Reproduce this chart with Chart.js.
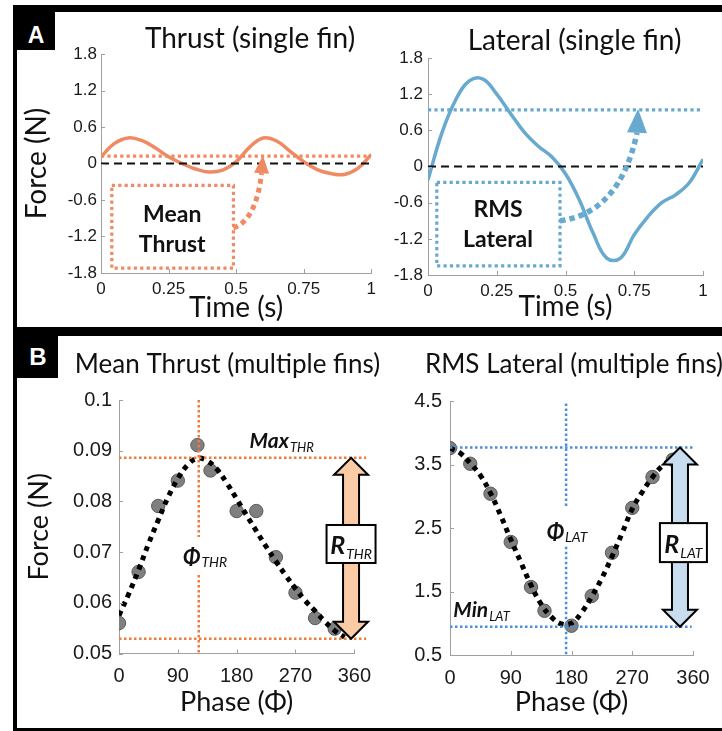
<!DOCTYPE html>
<html>
<head>
<meta charset="utf-8">
<title>Fin forces</title>
<script src="https://cdn.jsdelivr.net/npm/chart.js@4.4.1/dist/chart.umd.min.js"></script>
<style>
  html, body { margin: 0; padding: 0; width: 722px; height: 731px; overflow: hidden; background: #fff; }
  .frame { position: absolute; box-sizing: border-box; border: 0 solid #000; }
  .tag { position: absolute; background: #000; }
  .tagtxt { position: absolute; width: 40px; text-align: center; color: #fff; font: bold 24px "Liberation Sans", Arial, sans-serif; line-height: 24px; }
  canvas { position: absolute; }
</style>
</head>
<body>
<div class="frame" style="left:13px; top:5px; width:720px; height:326px; border-width:7px 0 4px 4px;"></div>
<div class="frame" style="left:13px; top:331px; width:720px; height:400px; border-width:5px 0 3px 4px;"></div>
<div class="tag" style="left:13px; top:5px; width:42px; height:45px;"></div>
<div class="tag" style="left:13px; top:327px; width:45px; height:51px;"></div>
<div class="tagtxt" style="left:16px; top:23px; font-size:23px;">A</div>
<div class="tagtxt" style="left:18px; top:345px;">B</div>

<canvas id="thrustTime" width="365" height="320" style="left:17px; top:12px;"></canvas>
<canvas id="lateralTime" width="338" height="320" style="left:384px; top:12px;"></canvas>
<canvas id="thrustPhase" width="365" height="391" style="left:17px; top:340px;"></canvas>
<canvas id="lateralPhase" width="338" height="391" style="left:384px; top:340px;"></canvas>

<script>
// ---- panel A: single fin over one cycle ----
const timeTicks = [0, 0.25, 0.5, 0.75, 1];
const timeLabels = ['0', '0.25', '0.5', '0.75', '1'];
const forceTicks = [-1.8, -1.2, -0.6, 0, 0.6, 1.2, 1.8];
const forceLabels = ['-1.8', '-1.2', '-0.6', '0', '0.6', '1.2', '1.8'];

const time = [0, 0.05, 0.1, 0.15, 0.2, 0.25, 0.3, 0.35, 0.4, 0.45, 0.5,
              0.55, 0.6, 0.65, 0.7, 0.75, 0.8, 0.85, 0.9, 0.95, 1];
const thrustSingle = [0.11, 0.33, 0.42, 0.38, 0.26, 0.11, 0.0, -0.09, -0.14, -0.11, 0.03,
                      0.27, 0.42, 0.37, 0.2, 0.03, -0.1, -0.165, -0.18, -0.08, 0.15];
const lateralSingle = [-0.22, 0.55, 1.1, 1.42, 1.45, 1.2, 0.88, 0.57, 0.34, 0.16, -0.12,
                       -0.55, -1.1, -1.52, -1.52, -1.13, -0.83, -0.6, -0.47, -0.27, 0.12];
const meanThrust = 0.12;
const rmsLateral = 0.94;

// ---- panel B: multiple fins vs phase ----
const phaseTicks = [0, 90, 180, 270, 360];
const phaseLabels = ['0', '90', '180', '270', '360'];
const thrTicks = [0.05, 0.06, 0.07, 0.08, 0.09, 0.1];
const thrLabels = ['0.05', '0.06', '0.07', '0.08', '0.09', '0.1'];
const latTicks = [0.5, 1.5, 2.5, 3.5, 4.5];
const latLabels = ['0.5', '1.5', '2.5', '3.5', '4.5'];

const finPhase = [0, 30, 60, 90, 120, 140, 180, 210, 240, 270, 300, 330];
const finThrust = [0.0560, 0.0661, 0.0791, 0.0841, 0.0911, 0.0861, 0.0781, 0.0781, 0.0690, 0.0620, 0.0570, 0.0549];
const finLateral = [3.758, 3.512, 3.04, 2.28, 1.57, 1.196, 0.961, 1.43, 2.11, 2.817, 3.303, 3.575];

const fitPhase = [0, 15, 30, 45, 60, 75, 90, 105, 120, 135, 150, 165,
                  180, 195, 210, 225, 240, 255, 270, 285, 300, 315, 330, 345];
const fitThrust = [0.0575, 0.0618, 0.0665, 0.0716, 0.0763, 0.0808, 0.0845, 0.0872, 0.0885, 0.0880, 0.0863, 0.0836,
                   0.0805, 0.0773, 0.0742, 0.0711, 0.0682, 0.0654, 0.0628, 0.0604, 0.0584, 0.0563, 0.0545, 0.0532];
const fitLateral = [3.76, 3.68, 3.52, 3.33, 3.05, 2.70, 2.32, 1.96, 1.60, 1.30, 1.10, 0.99,
                    1.00, 1.17, 1.42, 1.71, 2.05, 2.42, 2.80, 3.07, 3.30, 3.48, 3.57, 3.49];

const maxThr = 0.0886, minThr = 0.0529, phiThr = 122;
const maxLat = 3.768, minLat = 0.945, phiLat = 172;

const SANS = 'Lato, "Noto Sans", sans-serif';
const AXIS = '#a0a0a0';
const ORANGE = '#ef8a62', BLUE = '#67a9cf';
const ORANGE2 = '#f07b3a', BLUE2 = '#4b8fdc';

const pts = (xs, ys) => xs.map((x, i) => ({ x, y: ys[i] }));
const seg = (x0, y0, x1, y1) => [{ x: x0, y: y0 }, { x: x1, y: y1 }];

function lineDs(data, color, width, dash, extra) {
  return Object.assign({ data, borderColor: color, borderWidth: width, borderDash: dash || [],
    pointRadius: 0, fill: false, tension: 0 }, extra || {});
}

function axis(ticksArr, labels, o) {
  return {
    type: 'linear', min: ticksArr[0], max: ticksArr[ticksArr.length - 1],
    afterBuildTicks: s => { s.ticks = ticksArr.map(v => ({ value: v })); },
    afterFit: s => { if (s.isHorizontal()) s.height = o.size; else s.width = o.size; },
    grid: { display: false, drawTicks: false },
    border: { display: true, color: AXIS, width: 1 },
    ticks: { autoSkip: false, maxRotation: 0, padding: o.pad, color: '#1a1a1a',
             font: { family: 'Liberation Sans', size: o.fs }, callback: (v, i) => labels[i] },
    title: o.title ? { display: true, text: o.title, color: '#111',
                       font: { family: SANS, size: o.tfs, lineHeight: 1 }, padding: o.tpad }
                   : { display: false }
  };
}

function subText(ctx, x, y, main, sub, size, subSize, subDy, center) {
  ctx.font = 'bold italic ' + size + 'px ' + SANS;
  const w1 = ctx.measureText(main).width;
  ctx.font = 'italic ' + subSize + 'px ' + SANS;
  const w2 = ctx.measureText(sub).width;
  const x0 = center ? x - (w1 + w2 + 1) / 2 : x;
  ctx.textAlign = 'left';
  ctx.font = 'bold italic ' + size + 'px ' + SANS;
  ctx.fillText(main, x0, y);
  ctx.font = 'italic ' + subSize + 'px ' + SANS;
  ctx.fillText(sub, x0 + w1 + 1, y + subDy);
}

// draws the matlab-ish inner ticks, the panel title and the annotations
function decor(cfg) {
  return {
    id: 'decor',
    afterDatasetsDraw(chart) {
      const { ctx, chartArea: a } = chart;
      const xs = chart.scales.x, ys = chart.scales.y;
      const P = (x, y) => [xs.getPixelForValue(x), ys.getPixelForValue(y)];
      ctx.save();

      ctx.strokeStyle = AXIS; ctx.lineWidth = 1; ctx.setLineDash([]);
      ctx.beginPath();
      xs.ticks.forEach(t => {
        const p = Math.round(xs.getPixelForValue(t.value)) + 0.5;
        ctx.moveTo(p, a.bottom); ctx.lineTo(p, a.bottom - 4);
      });
      ys.ticks.forEach(t => {
        const p = Math.round(ys.getPixelForValue(t.value)) + 0.5;
        ctx.moveTo(a.left, p); ctx.lineTo(a.left + 4, p);
      });
      ctx.stroke();

      ctx.fillStyle = '#111'; ctx.textAlign = 'center'; ctx.textBaseline = 'alphabetic';
      ctx.font = cfg.title.size + 'px ' + SANS;
      ctx.fillText(cfg.title.text, cfg.title.x, cfg.title.y);

      (cfg.boxes || []).forEach(b => {
        const [x1, y1] = P(b.x1, b.y1), [x2, y2] = P(b.x2, b.y2);
        ctx.strokeStyle = b.color; ctx.lineWidth = 3.2; ctx.setLineDash([3.2, 3.2]);
        ctx.strokeRect(x1, y1, x2 - x1, y2 - y1);
      });

      (cfg.bent || []).forEach(c => {
        const p0 = P(...c.from), pc = P(...c.ctrl), p1 = P(...c.to), tip = P(...c.tip);
        ctx.strokeStyle = c.color; ctx.lineWidth = c.width; ctx.setLineDash([c.width, 4]);
        ctx.beginPath(); ctx.moveTo(p0[0], p0[1]);
        ctx.quadraticCurveTo(pc[0], pc[1], p1[0], p1[1]); ctx.stroke();
        const ang = Math.atan2(tip[1] - p1[1], tip[0] - p1[0]);
        const nx = -Math.sin(ang), ny = Math.cos(ang);
        ctx.setLineDash([]); ctx.fillStyle = c.color;
        ctx.beginPath(); ctx.moveTo(tip[0], tip[1]);
        ctx.lineTo(p1[0] + nx * c.half, p1[1] + ny * c.half);
        ctx.lineTo(p1[0] - nx * c.half, p1[1] - ny * c.half);
        ctx.closePath(); ctx.fill();
      });

      ctx.fillStyle = '#111';
      (cfg.words || []).forEach(w => {
        const [x, y] = P(w.x, w.y);
        ctx.font = 'bold ' + w.size + 'px ' + SANS; ctx.textAlign = 'center';
        ctx.fillText(w.text, x, y);
      });

      (cfg.marks || []).forEach(m => {
        const [x, y] = P(m.x, m.y);
        ctx.fillStyle = '#111';
        subText(ctx, x, y, m.main, m.sub, m.size, m.subSize, m.subDy, false);
      });

      (cfg.span || []).forEach(s => {
        const [cx, yT] = P(s.x, s.top), yB = ys.getPixelForValue(s.bottom);
        const hw = 17, hh = 17, sw = 8;
        ctx.beginPath();
        ctx.moveTo(cx, yT); ctx.lineTo(cx + hw, yT + hh); ctx.lineTo(cx + sw, yT + hh);
        ctx.lineTo(cx + sw, yB - hh); ctx.lineTo(cx + hw, yB - hh); ctx.lineTo(cx, yB);
        ctx.lineTo(cx - hw, yB - hh); ctx.lineTo(cx - sw, yB - hh); ctx.lineTo(cx - sw, yT + hh);
        ctx.lineTo(cx - hw, yT + hh); ctx.closePath();
        ctx.fillStyle = s.fill; ctx.fill();
        ctx.strokeStyle = '#000'; ctx.lineWidth = 2; ctx.setLineDash([]); ctx.stroke();

        const [bx, by] = P(s.boxX, s.boxY);
        ctx.fillStyle = '#fff';
        ctx.fillRect(bx - s.w / 2, by - s.h / 2, s.w, s.h);
        ctx.strokeRect(bx - s.w / 2, by - s.h / 2, s.w, s.h);
        ctx.fillStyle = '#111';
        subText(ctx, bx, by + 10.5, 'R', s.sub, 25, 14, 5, true);
      });

      ctx.restore();
    }
  };
}

function makeChart(id, datasets, xAxis, yAxis, pad, deco) {
  return new Chart(document.getElementById(id), {
    type: 'line',
    data: { datasets },
    options: {
      responsive: false, animation: false, events: [],
      layout: { padding: pad },
      plugins: { legend: { display: false }, tooltip: { enabled: false } },
      scales: { x: xAxis, y: yAxis }
    },
    plugins: [decor(deco)]
  });
}

// A: thrust of one fin
makeChart('thrustTime', [
    lineDs(seg(0, 0, 1, 0), '#111', 2, [8, 5]),
    lineDs(seg(0, meanThrust, 1, meanThrust), ORANGE, 3.2, [3.2, 3.2]),
    lineDs(pts(time, thrustSingle), ORANGE, 3.5, [], { tension: 0.4 })
  ],
  axis(timeTicks, timeLabels, { size: 59, pad: 6, fs: 17, title: 'Time (s)', tfs: 28, tpad: { bottom: 10 } }),
  axis(forceTicks, forceLabels, { size: 84, pad: 4, fs: 17, title: 'Force (N)', tfs: 28, tpad: { top: 6 } }),
  { top: 42, right: 4, left: 0, bottom: 0 },
  {
    title: { text: 'Thrust (single fin)', x: 233, y: 36, size: 28 },
    boxes: [{ x1: 0.04, y1: -0.36, x2: 0.49, y2: -1.72, color: ORANGE }],
    words: [{ text: 'Mean', x: 0.2635, y: -0.96, size: 23 }, { text: 'Thrust', x: 0.2635, y: -1.454, size: 23 }],
    bent: [{ from: [0.49, -1.06], ctrl: [0.574, -0.93], to: [0.594, -0.16], tip: [0.599, 0.137],
             half: 7.5, width: 5, color: ORANGE }]
  });

// A: lateral force of one fin
makeChart('lateralTime', [
    lineDs(seg(0, 0, 1, 0), '#111', 2, [8, 5]),
    lineDs(seg(0, rmsLateral, 1, rmsLateral), BLUE, 3.2, [3.2, 3.2]),
    lineDs(pts(time, lateralSingle), BLUE, 3.5, [], { tension: 0.4 })
  ],
  axis(timeTicks, timeLabels, { size: 57, pad: 6, fs: 17, title: 'Time (s)', tfs: 28, tpad: { bottom: 11 } }),
  axis(forceTicks, forceLabels, { size: 44, pad: 5, fs: 17 }),
  { top: 46, right: 19, left: 0, bottom: 0 },
  {
    title: { text: 'Lateral (single fin)', x: 190.5, y: 38, size: 28 },
    boxes: [{ x1: 0.032, y1: -0.265, x2: 0.48, y2: -1.65, color: BLUE }],
    words: [{ text: 'RMS', x: 0.2545, y: -0.846, size: 23 }, { text: 'Lateral', x: 0.2545, y: -1.343, size: 23 }],
    bent: [{ from: [0.48, -0.9], ctrl: [0.698, -0.77], to: [0.76, 0.56], tip: [0.764, 0.955],
             half: 10, width: 5.5, color: BLUE }]
  });

// B: mean thrust vs phase
makeChart('thrustPhase', [
    lineDs([{ x: phiThr, y: 0.1 }, { x: phiThr, y: 0.073 }, { x: phiThr, y: null },
            { x: phiThr, y: 0.0655 }, { x: phiThr, y: 0.05 }], ORANGE2, 2.5, [2.5, 2.5], { spanGaps: false }),
    lineDs(seg(0, maxThr, 378, maxThr), ORANGE2, 2.5, [2.5, 2.5], { clip: false }),
    lineDs(seg(0, minThr, 378, minThr), ORANGE2, 2.5, [2.5, 2.5], { clip: false }),
    lineDs(pts(fitPhase, fitThrust), '#000', 5, [5, 5], { tension: 0.4 }),
    { data: pts(finPhase, finThrust), showLine: false, pointRadius: 6.7,
      pointBackgroundColor: '#7f7f7f', pointBorderColor: '#5a5a5a', pointBorderWidth: 1 }
  ],
  axis(phaseTicks, phaseLabels, { size: 77.5, pad: 11, fs: 20, title: 'Phase (Φ)', tfs: 27, tpad: { bottom: 15 } }),
  axis(thrTicks, thrLabels, { size: 102, pad: 7, fs: 20, title: 'Force (N)', tfs: 27, tpad: { top: 9 } }),
  { top: 60, right: 27, left: 0, bottom: 0 },
  {
    title: { text: 'Mean Thrust (multiple fins)', x: 210.5, y: 33, size: 26 },
    marks: [{ main: 'Max', sub: 'THR', x: 199.8, y: 0.0905, size: 21, subSize: 13, subDy: 3.5 },
            { main: 'Φ', sub: 'THR', x: 98, y: 0.0675, size: 22, subSize: 14, subDy: 2 }],
    span: [{ x: 355, top: maxThr, bottom: minThr, fill: '#fbcba6', boxX: 355, boxY: 0.0716, w: 49, h: 38, sub: 'THR' }]
  });

// B: rms lateral vs phase
makeChart('lateralPhase', [
    lineDs([{ x: phiLat, y: 4.46 }, { x: phiLat, y: 2.81 }, { x: phiLat, y: null },
            { x: phiLat, y: 2.206 }, { x: phiLat, y: 0.5 }], BLUE2, 2.5, [2.5, 2.5], { spanGaps: false }),
    lineDs(seg(0, maxLat, 363, maxLat), BLUE2, 2.5, [2.5, 2.5], { clip: false }),
    lineDs(seg(0, minLat, 358, minLat), BLUE2, 2.5, [2.5, 2.5], { clip: false }),
    lineDs(pts(fitPhase, fitLateral), '#000', 5, [5, 5], { tension: 0.4 }),
    { data: pts(finPhase, finLateral), showLine: false, pointRadius: 6.7,
      pointBackgroundColor: '#7f7f7f', pointBorderColor: '#5a5a5a', pointBorderWidth: 1 }
  ],
  axis(phaseTicks, phaseLabels, { size: 76, pad: 11, fs: 20, title: 'Phase (Φ)', tfs: 27, tpad: { bottom: 15 } }),
  axis(latTicks, latLabels, { size: 66, pad: 8, fs: 20 }),
  { top: 61, right: 29, left: 0, bottom: 0 },
  {
    title: { text: 'RMS Lateral (multiple fins)', x: 190, y: 33, size: 26 },
    marks: [{ main: 'Min', sub: 'LAT', x: 4.9, y: 1.098, size: 21, subSize: 13, subDy: 3.5 },
            { main: 'Φ', sub: 'LAT', x: 143.3, y: 2.31, size: 22, subSize: 14, subDy: 1.5 }],
    span: [{ x: 340.7, top: maxLat, bottom: minLat, fill: '#c9ddf1', boxX: 345.8, boxY: 2.27, w: 47, h: 39, sub: 'LAT' }]
  });
</script>
</body>
</html>
